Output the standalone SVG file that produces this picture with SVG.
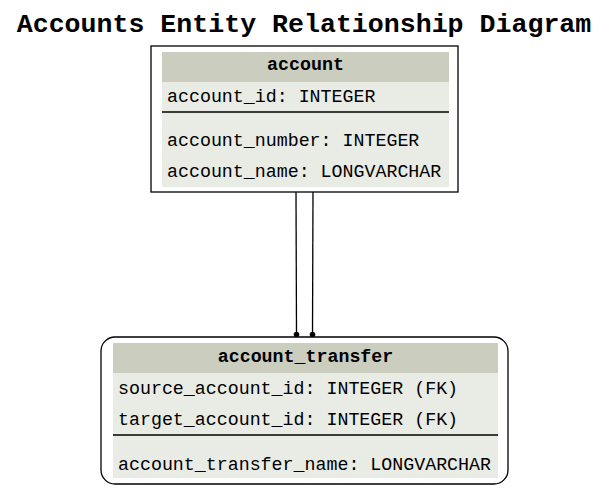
<svg xmlns="http://www.w3.org/2000/svg" width="609" height="491" viewBox="0 0 609 491">
<style>
text{font-family:"Liberation Mono","DejaVu Sans Mono",monospace;font-size:18.3px;fill:#000}
.title{font-size:26.6px;font-weight:bold}
.hd{font-weight:bold;text-anchor:middle}
.hbg{fill:#cbcdbf}
.rbg{fill:#e9ebe5}
.sep{stroke:#000;stroke-width:1.3}
.box{fill:#fff;stroke:#000;stroke-width:1.3}
.conn{fill:none;stroke:#000;stroke-width:1.3}
</style>
<rect width="609" height="491" fill="#fff"/>
<text class="title" x="304" y="32" text-anchor="middle">Accounts Entity Relationship Diagram</text>
<g id="connectors">
<line class="conn" x1="296" y1="192" x2="296.5" y2="335"/>
<line class="conn" x1="313" y1="192" x2="312.5" y2="335"/>
<circle cx="296.5" cy="334.5" r="2.8"/>
<circle cx="312.5" cy="334.5" r="2.8"/>
</g>
<g id="account">
<rect class="box" x="151" y="46" width="307" height="146"/>
<rect class="hbg" x="162" y="52" width="287" height="30"/>
<rect class="rbg" x="162" y="82" width="287" height="105"/>
<line class="sep" x1="162" y1="112" x2="449" y2="112"/>
<text class="hd" x="305.5" y="70">account</text>
<text x="167" y="102">account_id: INTEGER</text>
<text x="167" y="146">account_number: INTEGER</text>
<text x="167" y="177">account_name: LONGVARCHAR</text>
</g>
<g id="account_transfer">
<rect class="box" x="101" y="337" width="407" height="147" rx="14"/>
<rect class="hbg" x="113" y="343" width="385" height="30"/>
<rect class="rbg" x="113" y="373" width="385" height="105"/>
<line class="sep" x1="113" y1="435" x2="498" y2="435"/>
<text class="hd" x="305.5" y="362">account_transfer</text>
<text x="118" y="394">source_account_id: INTEGER (FK)</text>
<text x="118" y="425">target_account_id: INTEGER (FK)</text>
<text x="118" y="470">account_transfer_name: LONGVARCHAR</text>
</g>
</svg>
